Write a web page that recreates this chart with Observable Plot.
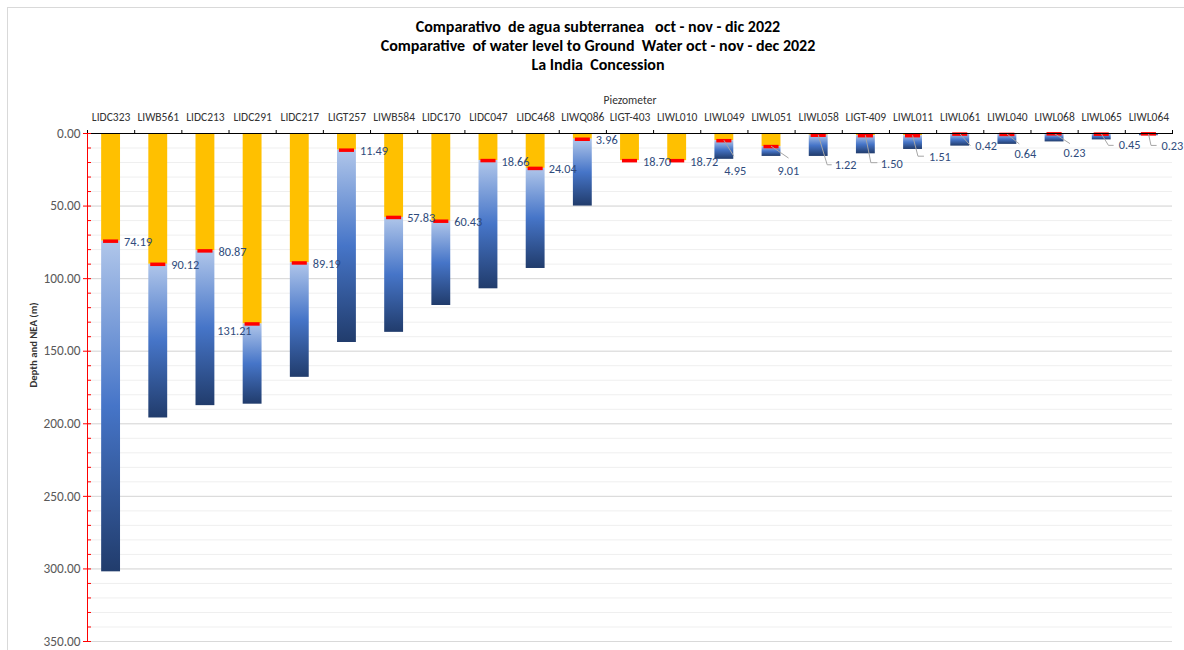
<!DOCTYPE html>
<html>
<head>
<meta charset="utf-8">
<script src="https://cdn.jsdelivr.net/npm/d3@7"></script>
<script src="https://cdn.jsdelivr.net/npm/@observablehq/plot@0.6"></script>
<style>
  html, body { margin: 0; padding: 0; background: #fff; }
  body { width: 1184px; height: 650px; position: relative; overflow: hidden; font-family: Carlito, Lato, "Open Sans", sans-serif; }
  #frame { position: absolute; left: 7px; top: 7px; width: 1220px; height: 700px; border: 1px solid #d9d9d9; box-sizing: border-box; }
  #title { position: absolute; left: 0; top: 17px; width: 1196px; text-align: center; font-weight: 700; font-size: 16px; line-height: 19px; color: #000; white-space: pre; }
  #chart { position: absolute; left: 0; top: 80px; }
</style>
</head>
<body>
<div id="frame"></div>
<div id="title"></div>
<div id="chart"></div>
<script>
// ---------- DATA ----------
const titleLines = [
  "Comparativo  de agua subterranea   oct - nov - dic 2022",
  "Comparative  of water level to Ground  Water oct - nov - dec 2022",
  "La India  Concession"
];
const xAxisTitle = "Piezometer";
const yAxisTitle = "Depth and NEA (m)";
const piezometers = ["LIDC323","LIWB561","LIDC213","LIDC291","LIDC217","LIGT257","LIWB584","LIDC170","LIDC047","LIDC468","LIWQ086","LIGT-403","LIWL010","LIWL049","LIWL051","LIWL058","LIGT-409","LIWL011","LIWL061","LIWL040","LIWL068","LIWL065","LIWL064"];
// static water level (NEA), m
const waterLevel = [74.19, 90.12, 80.87, 131.21, 89.19, 11.49, 57.83, 60.43, 18.66, 24.04, 3.96, 18.70, 18.72, 4.95, 9.01, 1.22, 1.50, 1.51, 0.42, 0.64, 0.23, 0.45, 0.23];
const totalDepth = [302, 196, 187.5, 186.5, 168, 144, 137, 118.5, 107, 93, 50, 18.70, 18.72, 17.8, 15.8, 15.8, 14.0, 11.0, 8.7, 7.5, 5.8, 4.4, 1.5];
const yMajorTicks = [0, 50, 100, 150, 200, 250, 300, 350];
const yMinorTicks = [0,10,20,30,40,50,60,70,80,90,100,110,120,130,140,150,160,170,180,190,200,210,220,230,240,250,260,270,280,290,300,310,320,330,340,350];

// ---------- LAYOUT / STYLE ----------
const W = 1184, H = 570;
const M = {top: 53, right: 12, bottom: 9, left: 87};
const BAR = 0.40, MARK = 0.32;
const labelColor = "#2f4b7c";
const labelSize = 12.3;
// label offsets in px relative to the water-level marker centre
const labelDefault = {dx: 13, dy: 1, anchor: "start"};
const labelSpecial = {3: {dx: -1, dy: 7, anchor: "end"}};
const leaderLayout = {
  13: {label: [0, 30],    path: [[0,0],[10,16]]},
  14: {label: [6, 24],    path: [[0,0],[17.5,12]]},
  15: {label: [16, 30],   path: [[0,0],[9,30],[13.5,30]]},
  16: {label: [15, 28.5], path: [[0,0],[5.5,27.5],[12,27.5]]},
  17: {label: [16, 21.5], path: [[0,0],[5.4,21],[11.4,21]]},
  18: {label: [15, 12],   path: [[0,0],[10.7,12]]},
  19: {label: [7, 20],    path: [[0,0],[12.4,10]]},
  20: {label: [9, 19.5],  path: [[0,0],[15.9,10.3]]},
  21: {label: [17, 11],   path: [[0,0],[7.2,11.7],[12.4,11.7]]},
  22: {label: [12.5, 12.3], path: [[0,0],[2.6,12.1],[8.2,12.1]]}
};

document.getElementById("title").textContent = titleLines.join("\n");

const rows = piezometers.map((name, i) => ({name, i, level: waterLevel[i], depth: totalDepth[i]}));
const cx = d => d.i + 0.5;
const fmt = d3.format(".2f");
const boundaries = piezometers.map((_, i) => i).concat([piezometers.length]);

const defsMark = () => {
  const defs = d3.create("svg:defs");
  const g = defs.append("linearGradient").attr("id", "gwBlue").attr("x1", 0).attr("y1", 0).attr("x2", 0).attr("y2", 1);
  g.append("stop").attr("offset", "0%").attr("stop-color", "#b0c6ea");
  g.append("stop").attr("offset", "50%").attr("stop-color", "#4675c8");
  g.append("stop").attr("offset", "100%").attr("stop-color", "#213c6c");
  return defs.node();
};

const leaderMark = (index, scales) => {
  const g = d3.create("svg:g").attr("fill", "none").attr("stroke", "#a6a6a6").attr("stroke-width", 1);
  for (const [k, lay] of Object.entries(leaderLayout)) {
    const d = rows[+k];
    const x0 = scales.x(cx(d)), y0 = scales.y(d.level);
    g.append("polyline").attr("points", lay.path.map(([px, py]) => `${x0 + px},${y0 + py}`).join(" "));
  }
  return g.node();
};

const leaderLabels = Object.entries(leaderLayout).map(([k, lay]) =>
  Plot.text([rows[+k]], {x: cx, y: "level", text: d => fmt(d.level), dx: lay.label[0], dy: lay.label[1], textAnchor: "start", fill: labelColor, fontSize: labelSize})
);
const normalRows = rows.filter(d => !(d.i in leaderLayout) && !(d.i in labelSpecial));
const specialLabels = Object.entries(labelSpecial).map(([k, s]) =>
  Plot.text([rows[+k]], {x: cx, y: "level", text: d => fmt(d.level), dx: s.dx, dy: s.dy, textAnchor: s.anchor, fill: labelColor, fontSize: labelSize})
);

const plot = Plot.plot({
  width: W, height: H,
  marginTop: M.top, marginRight: M.right, marginBottom: M.bottom, marginLeft: M.left,
  style: {background: "none", fontFamily: "Carlito, Lato, 'Open Sans', sans-serif", overflow: "visible", color: "#333"},
  x: {type: "linear", domain: [0, piezometers.length]},
  y: {type: "linear", domain: [0, 350], reverse: true},
  marks: [
    defsMark,
    Plot.ruleY(yMinorTicks, {stroke: "#efefef"}),
    Plot.ruleY(yMajorTicks, {stroke: "#d9d9d9"}),
    Plot.rect(rows, {x1: d => cx(d) - BAR / 2, x2: d => cx(d) + BAR / 2, y1: 0, y2: "level", fill: "#FFC000"}),
    Plot.rect(rows.filter(d => d.depth > d.level), {x1: d => cx(d) - BAR / 2, x2: d => cx(d) + BAR / 2, y1: "level", y2: "depth", fill: "url(#gwBlue)"}),
    Plot.ruleY(rows, {y: "level", x1: d => cx(d) - MARK / 2, x2: d => cx(d) + MARK / 2, stroke: "#ff0000", strokeWidth: 3.5}),
    leaderMark,
    Plot.text(normalRows, {x: cx, y: "level", text: d => fmt(d.level), dx: labelDefault.dx, dy: labelDefault.dy, textAnchor: labelDefault.anchor, fill: labelColor, fontSize: labelSize}),
    ...specialLabels,
    ...leaderLabels,
    Plot.ruleY([0], {stroke: "#000"}),
    Plot.axisX({anchor: "top", ticks: boundaries, tickSize: 4, tickFormat: () => "", stroke: "#000", label: null}),
    Plot.text(rows, {x: cx, y: 0, dy: -16, text: "name", fontSize: 11.5, fill: "#333", lineAnchor: "middle"}),
    Plot.text([xAxisTitle], {frameAnchor: "top", lineAnchor: "middle", dy: -33, text: d => d, fontSize: 11.5, fill: "#333"}),
    Plot.ruleX([0], {stroke: "#ff0000"}),
    Plot.ruleY(yMinorTicks, {stroke: "#ff0000", insetRight: W - M.left - M.right - 4}),
    Plot.axisY({anchor: "left", ticks: yMajorTicks, tickSize: 4, tickPadding: 3, tickFormat: fmt, stroke: "#ff0000", fill: "#595959", fontSize: 13.3, label: null}),
    Plot.text([yAxisTitle], {frameAnchor: "left", dx: -54, rotate: -90, text: d => d, fontSize: 10.7, fontWeight: "bold", fill: "#333"})
  ]
});
document.getElementById("chart").appendChild(plot);
</script>
</body>
</html>
